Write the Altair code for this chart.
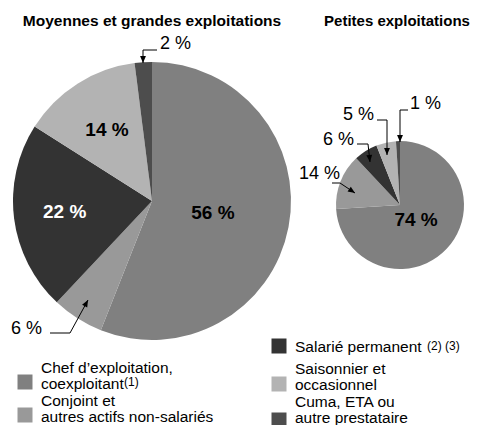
import math
import altair as alt
import pandas as pd

# ---- data ----
categories = [
    "Chef d’exploitation, coexploitant",
    "Conjoint et autres actifs non-salariés",
    "Salarié permanent",
    "Saisonnier et occasionnel",
    "Cuma, ETA ou autre prestataire",
]
legend_text = [
    "Chef d’exploitation,\ncoexploitant",
    "Conjoint et\nautres actifs non-salariés",
    "Salarié permanent",
    "Saisonnier et\noccasionnel",
    "Cuma, ETA ou\nautre prestataire",
]
legend_notes = ["(1)", "", "(2) (3)", "", ""]
pies = ["Moyennes et grandes exploitations", "Petites exploitations"]
moyennes_grandes = [56, 6, 22, 14, 2]
petites = [74, 14, 6, 5, 1]
colors = ["#808080", "#999999", "#333333", "#b3b3b3", "#4d4d4d"]

rows = []
for pie_name, vals in zip(pies, [moyennes_grandes, petites]):
    for i, (c, v) in enumerate(zip(categories, vals)):
        rows.append({"pie": pie_name, "cat": c, "idx": i, "value": v})
df = pd.DataFrame(rows)
leg_df = pd.DataFrame({"cat": categories, "idx": list(range(5)),
                       "txt": legend_text, "note": legend_notes})

FONT = "Liberation Sans"
color_scale = alt.Scale(domain=categories, range=colors)
theta_scale = alt.Scale(domain=[0, 100])

# offset: page margin 8px
def px(v):
    return v - 8

L_CX, L_CY, L_R = px(152), px(201), 139
R_CX, R_CY, R_R = px(400), px(205), 64

base = alt.Chart(df)

def pie(name, cx, cy, r):
    return base.transform_filter(alt.datum.pie == name).mark_arc(radius=r).encode(
        theta=alt.Theta("value:Q", stack=True, scale=theta_scale),
        color=alt.Color("cat:N", scale=color_scale, legend=None),
        order=alt.Order("idx:Q"),
        x=alt.value(cx), y=alt.value(cy),
    )

def with_mid(name):
    return (base.transform_filter(alt.datum.pie == name)
            .transform_window(cum="sum(value)", sort=[alt.SortField("idx")])
            .transform_calculate(mid="datum.cum - datum.value / 2",
                                 label="datum.value + ' %'"))

def inner_label(name, idx, cx, cy, r, color):
    return (with_mid(name).transform_filter(alt.datum.idx == idx)
            .mark_text(radius=r, font=FONT, fontSize=19, fontWeight="bold", color=color)
            .encode(theta=alt.Theta("mid:Q", stack=False, scale=theta_scale),
                    text="label:N", x=alt.value(cx), y=alt.value(cy)))

def outer_label(name, idx, x, y):
    return (base.transform_filter((alt.datum.pie == name) & (alt.datum.idx == idx))
            .transform_calculate(label="datum.value + ' %'")
            .mark_text(font=FONT, fontSize=18, align="left", baseline="middle", color="black")
            .encode(text="label:N", x=alt.value(px(x)), y=alt.value(px(y))))

one = alt.Data(values=[{"a": 1}])

def seg(x1, y1, x2, y2):
    return alt.Chart(one).mark_rule(color="black", strokeWidth=1).encode(
        x=alt.value(px(x1)), y=alt.value(px(y1)), x2=alt.value(px(x2)), y2=alt.value(px(y2)))

def arrow(points):
    layers = []
    for (a, b) in zip(points[:-1], points[1:]):
        layers.append(seg(a[0], a[1], b[0], b[1]))
    (x1, y1), (x2, y2) = points[-2], points[-1]
    ang = math.degrees(math.atan2(-(x2 - x1), (y2 - y1))) % 360
    layers.append(alt.Chart(one).mark_point(
        shape="M0,0 L-0.42,-1 L0.42,-1 Z", filled=True, color="black", opacity=1,
        size=196, angle=ang, strokeWidth=0).encode(x=alt.value(px(x2)), y=alt.value(px(y2))))
    return layers

def title(text, x, y, size):
    return alt.Chart(one).mark_text(font=FONT, fontSize=size, fontWeight="bold",
                                    align="center", baseline="middle", color="black").encode(
        text=alt.value(text), x=alt.value(px(x)), y=alt.value(px(y)))

layers = [
    pie(pies[0], L_CX, L_CY, L_R),
    pie(pies[1], R_CX, R_CY, R_R),
    inner_label(pies[0], 0, L_CX, L_CY, 62, "black"),
    inner_label(pies[0], 2, L_CX, L_CY, 88, "white"),
    inner_label(pies[0], 3, L_CX, L_CY, 84, "black"),
    inner_label(pies[1], 0, R_CX, R_CY, 22, "black"),
    outer_label(pies[0], 4, 160, 44),
    outer_label(pies[0], 1, 11, 329),
    outer_label(pies[1], 4, 410, 104),
    outer_label(pies[1], 3, 343, 115),
    outer_label(pies[1], 2, 323, 140),
    outer_label(pies[1], 1, 299, 174),
    title(pies[0], 152, 21, 15.5),
    title(pies[1], 397, 21, 15),
]
layers += arrow([(157, 50), (143, 50), (143, 63)])
layers += arrow([(50, 333), (70, 333), (88, 300)])
layers += arrow([(408, 110), (400, 110), (400, 142)])
layers += arrow([(377, 120), (387, 120), (387, 155)])
layers += arrow([(357, 144), (368, 144), (370, 162)])
layers += arrow([(332, 183), (340, 183), (355, 193)])

# legend (manual, two columns): square centre x, square centre y, first text line y
leg = alt.Chart(leg_df)
leg_pos = {0: (25, 382, 368), 1: (25, 415, 401), 2: (279, 346, 347),
           3: (279, 384, 369), 4: (279, 420, 402)}
for i, (sx, sy, ty) in leg_pos.items():
    f = leg.transform_filter(alt.datum.idx == i)
    layers.append(f.mark_square(size=225, opacity=1).encode(
        color=alt.Color("cat:N", scale=color_scale, legend=None),
        x=alt.value(px(sx)), y=alt.value(px(sy))))
    layers.append(f.mark_text(font=FONT, fontSize=15.5, align="left", baseline="middle",
                              lineBreak="\n", lineHeight=15.5, color="black").encode(
        text="txt:N", x=alt.value(px(sx + 16)), y=alt.value(px(ty))))
layers.append(leg.transform_filter(alt.datum.idx == 0).mark_text(
    font=FONT, fontSize=12, align="left", baseline="middle", color="black").encode(
    text="note:N", x=alt.value(px(124)), y=alt.value(px(382))))
layers.append(leg.transform_filter(alt.datum.idx == 2).mark_text(
    font=FONT, fontSize=12, align="left", baseline="middle", color="black").encode(
    text="note:N", x=alt.value(px(427)), y=alt.value(px(346))))

chart = alt.layer(*layers).properties(
    width=464, height=417, autosize=alt.AutoSizeParams(type="none"), padding=0
).configure_view(stroke=None)

chart.save("out.html", embed_options={"renderer": "svg", "actions": False})
